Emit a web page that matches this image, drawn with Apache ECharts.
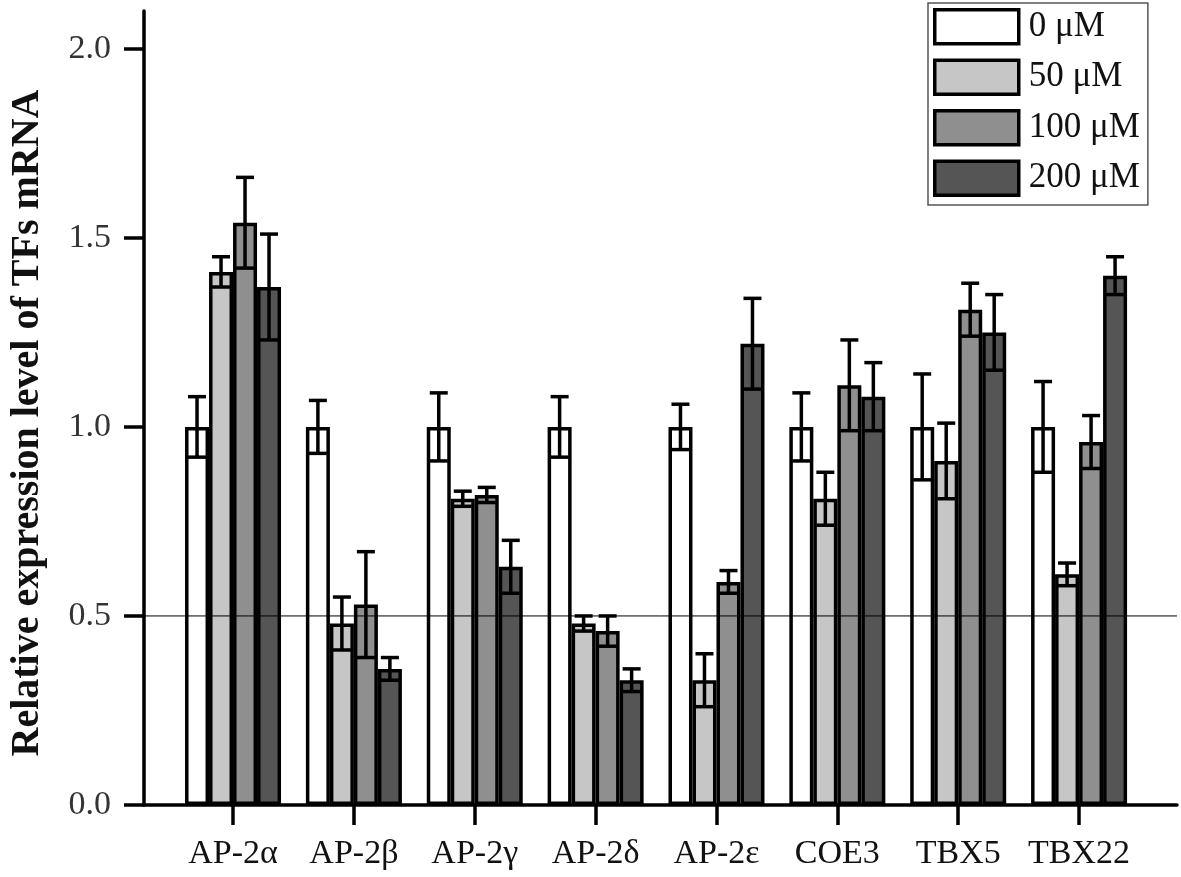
<!DOCTYPE html>
<html>
<head>
<meta charset="utf-8">
<script src="https://cdn.jsdelivr.net/npm/echarts@6/dist/echarts.min.js"></script>
<style>
   html, body { margin: 0; padding: 0; background: #fff; }
   #main { width: 1181px; height: 877px; }
</style>
</head>
<body>
<div id="main"></div>
<script>
// categories and series
const genes = ['AP-2α', 'AP-2β', 'AP-2γ', 'AP-2δ', 'AP-2ε', 'COE3', 'TBX5', 'TBX22']
const doseNames = ['0 μM', '50 μM', '100 μM', '200 μM']

const mean0 = [1.00, 1.00, 1.00, 1.00, 1.00, 1.00, 1.00, 1.00]
const err0 = [0.08, 0.07, 0.09, 0.08, 0.06, 0.09, 0.14, 0.12]
const mean50 = [1.41, 0.48, 0.81, 0.48, 0.33, 0.81, 0.91, 0.61]
const err50 = [0.04, 0.07, 0.02, 0.02, 0.07, 0.07, 0.10, 0.03]
const mean100 = [1.54, 0.53, 0.82, 0.46, 0.59, 1.11, 1.31, 0.96]
const err100 = [0.12, 0.14, 0.02, 0.04, 0.03, 0.12, 0.07, 0.07]
const mean200 = [1.37, 0.36, 0.63, 0.33, 1.22, 1.08, 1.25, 1.40]
const err200 = [0.14, 0.03, 0.07, 0.03, 0.12, 0.09, 0.10, 0.05]

const yTicks = [0, 0.5, 1.0, 1.5, 2.0]
const refLevel = 0.5

const means = [mean0, mean50, mean100, mean200]
const errs = [err0, err50, err100, err200]
const fills = ['#ffffff', '#c6c6c6', '#8f8f8f', '#555555']

const barW = 24
const font = 'Liberation Serif'

let myChart = echarts.init(document.getElementById('main'))

let series = []

// bars
means.forEach((m, i) => {
   series.push({
      name: doseNames[i],
      type: 'bar',
      xAxisIndex: 1,
      yAxisIndex: 1,
      data: m,
      barWidth: barW,
      barGap: '0%',
      itemStyle: {
         color: fills[i],
         borderColor: '#000',
         borderWidth: 3.5
      },
      emphasis: { disabled: true },
      z: 2
   })
})

// error bars, both sides of the mean
means.forEach((m, i) => {
   let offset = (i - 1.5) * barW
   series.push({
      type: 'custom',
      xAxisIndex: 1,
      yAxisIndex: 1,
      data: m.map((v, k) => [k, v, errs[i][k]]),
      renderItem: function (params, api) {
         let x = api.coord([api.value(0), 0])[0] + offset
         let yHi = api.coord([api.value(0), api.value(1) + api.value(2)])[1]
         let yLo = api.coord([api.value(0), api.value(1) - api.value(2)])[1]
         let style = { stroke: '#000', lineWidth: 3.5 }
         return {
            type: 'group',
            children: [
               { type: 'line', shape: { x1: x, y1: yHi, x2: x, y2: yLo }, style: style },
               { type: 'line', shape: { x1: x - 9, y1: yHi, x2: x + 9, y2: yHi }, style: style },
               { type: 'line', shape: { x1: x - 9, y1: yLo, x2: x + 9, y2: yLo }, style: style }
            ]
         }
      },
      z: 3
   })
})

// thin reference line at 0.5 across the frame
series.push({
   type: 'line',
   xAxisIndex: 0,
   yAxisIndex: 0,
   data: [[0, refLevel], [1, refLevel]],
   symbol: 'none',
   lineStyle: { color: '#000', width: 1 },
   silent: true,
   z: 5
})

let option = {
   animation: false,
   legend: {
      data: doseNames,
      orient: 'vertical',
      left: 928,
      top: 3,
      icon: 'rect',
      itemWidth: 84,
      itemHeight: 34,
      itemGap: 13,
      padding: [5, 8, 8, 5],
      borderColor: '#555',
      borderWidth: 1.5,
      itemStyle: { borderColor: '#000', borderWidth: 3.5 },
      textStyle: {
         fontFamily: font,
         fontSize: 35,
         color: '#111',
         padding: [0, 0, 0, 5]
      },
      selectedMode: false
   },
   grid: [
      // frame with axis lines
      { left: 137, right: 4, top: 11, bottom: 72 },
      // bars, category centres at the tick marks
      { left: 172.6, right: 41.5, top: 11, bottom: 72 }
   ],
   xAxis: [
      {
         type: 'value',
         gridIndex: 0,
         min: 0,
         max: 1,
         axisLine: { show: true, onZero: false, lineStyle: { color: '#000', width: 3.5 } },
         axisTick: { show: false },
         axisLabel: { show: false },
         splitLine: { show: false }
      },
      {
         type: 'category',
         gridIndex: 1,
         data: genes,
         axisLine: { show: false },
         axisTick: {
            show: true,
            interval: 0,
            alignWithLabel: true,
            length: 20,
            lineStyle: { color: '#000', width: 3.5 }
         },
         axisLabel: {
            interval: 0,
            fontFamily: font,
            fontSize: 34,
            color: '#111',
            margin: 32
         }
      }
   ],
   yAxis: [
      {
         type: 'value',
         gridIndex: 0,
         min: 0,
         max: 2.1,
         name: 'Relative expression level of TFs mRNA',
         nameLocation: 'middle',
         nameRotate: 90,
         nameGap: 96,
         nameTextStyle: {
            fontFamily: font,
            fontWeight: 'bold',
            fontSize: 40,
            color: '#111',
            padding: [0, 30, 0, 0]
         },
         axisLine: { show: true, onZero: false, lineStyle: { color: '#000', width: 3.5 } },
         axisTick: {
            show: true,
            length: 20,
            customValues: yTicks,
            lineStyle: { color: '#000', width: 3.5 }
         },
         axisLabel: {
            customValues: yTicks,
            fontFamily: font,
            fontSize: 34,
            color: '#333',
            margin: 33,
            formatter: v => v.toFixed(1)
         },
         splitLine: { show: false }
      },
      {
         type: 'value',
         gridIndex: 1,
         min: 0,
         max: 2.1,
         show: false
      }
   ],
   series: series
}

myChart.setOption(option)
</script>
</body>
</html>
